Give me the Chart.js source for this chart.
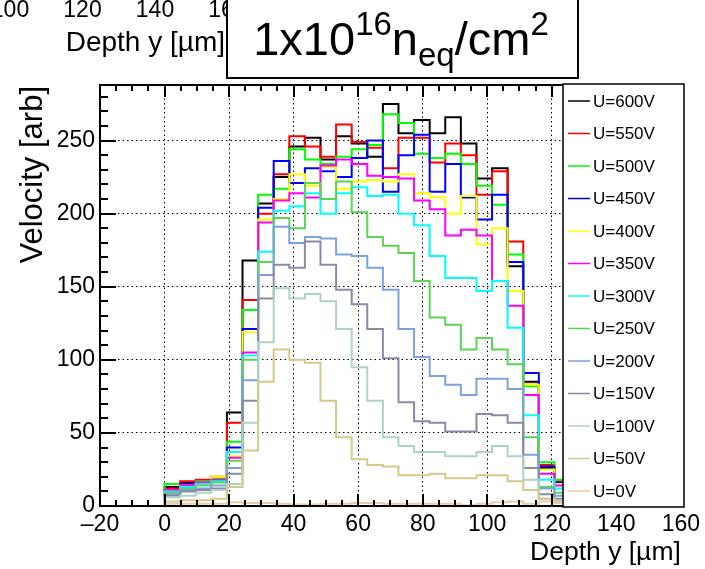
<!DOCTYPE html>
<html>
<head>
<meta charset="utf-8">
<script src="https://cdn.jsdelivr.net/npm/chart.js@4.4.0/dist/chart.umd.min.js"></script>
<style>
  html, body { margin: 0; padding: 0; background: #fff; }
  #wrap { width: 705px; height: 569px; position: relative; }
</style>
</head>
<body>
<div id="wrap"><canvas id="c" width="705" height="569"></canvas></div>
<script>
// bin edges of the depth histogram [um]
var binEdges = [0, 4.83, 9.67, 14.5, 19.33, 24.17, 29, 33.83, 38.67, 43.5, 48.33, 53.17, 58,
  62.83, 67.67, 72.5, 77.33, 82.17, 87, 91.83, 96.67, 101.5, 106.33, 111.17, 116, 120.83, 125.67];

var labels = ['U=600V', 'U=550V', 'U=500V', 'U=450V', 'U=400V', 'U=350V', 'U=300V',
  'U=250V', 'U=200V', 'U=150V', 'U=100V', 'U=50V', 'U=0V'];
var colors = ['#000000', '#ff0000', '#00ff00', '#0000ff', '#ffff00', '#ff00ff', '#00ffff',
  '#59d454', '#7ea1dc', '#8a8aa6', '#b0d2c6', '#d2c98a', '#e9cba5'];

var u600 = [13, 16, 17, 19, 64, 168, 207, 225, 246, 252, 237, 253, 248, 239, 275, 255, 264, 255, 266, 248, 224, 231, 164, 85, 26, 16];
var u550 = [12, 17, 18, 20, 57, 141, 200, 227, 253, 246, 239, 261, 249, 245, 231, 252, 252, 235, 248, 240, 213, 229, 181, 83, 28, 17];
var u500 = [15, 15, 17, 19, 44, 134, 213, 217, 244, 237, 234, 239, 244, 247, 268, 262, 241, 238, 241, 234, 219, 206, 172, 82, 30, 18];
var u450 = [10, 15, 16, 17, 40, 121, 204, 236, 221, 231, 229, 225, 238, 250, 215, 240, 254, 215, 234, 211, 196, 213, 167, 91, 27, 16];
var u400 = [11, 14, 16, 20, 34, 119, 196, 210, 227, 219, 232, 217, 222, 223, 222, 227, 214, 211, 200, 212, 179, 190, 147, 83, 25, 15];
var u350 = [11, 14, 16, 18, 33, 105, 194, 209, 214, 211, 233, 237, 234, 226, 225, 224, 209, 203, 185, 189, 185, 154, 137, 76, 22, 14];
var u300 = [10, 13, 15, 17, 37, 103, 174, 202, 205, 214, 200, 214, 218, 212, 213, 200, 192, 171, 156, 156, 147, 154, 122, 62, 18, 12];
var u250 = [9, 12, 14, 16, 31, 100, 167, 197, 190, 221, 210, 222, 201, 184, 178, 173, 154, 129, 124, 107, 115, 107, 97, 47, 13, 9];
var u200 = [8, 11, 12, 14, 26, 86, 158, 191, 180, 184, 183, 172, 171, 163, 148, 121, 102, 89, 83, 76, 87, 87, 80, 35, 12, 7];
var u150 = [7, 10, 11, 12, 22, 72, 142, 165, 163, 181, 165, 148, 138, 121, 101, 71, 58, 57, 51, 51, 63, 62, 57, 26, 8, 5];
var u100 = [6, 7, 9, 11, 15, 57, 112, 149, 142, 145, 140, 121, 95, 72, 47, 41, 37, 37, 34, 34, 37, 41, 34, 18, 5, 4];
var u50 = [3, 4, 4, 5, 13, 38, 85, 107, 100, 98, 72, 47, 32, 28, 27, 21, 21, 22, 19, 19, 21, 21, 17, 11, 5, 3];
var u0 = [1.5, 1.5, 1.5, 1.5, 2.5, 2, 2, 1.5, 1, 1, 1.5, 1.5, 2, 2, 1.5, 1.5, 1.5, 1.5, 1.5, 0.5, 1.5, 2.5, 3, 1.5, 3, 2];

var series = [u600, u550, u500, u450, u400, u350, u300, u250, u200, u150, u100, u50, u0];

var xTicks = [-20, 0, 20, 40, 60, 80, 100, 120, 140, 160];
var yTicks = [0, 50, 100, 150, 200, 250];

var FONT = '"Liberation Sans", Arial, Helvetica, sans-serif';

// histogram outline: start on the baseline, step through bins, back to baseline
function histPoints(vals) {
  var pts = [{ x: binEdges[0], y: 0 }];
  for (var i = 0; i < vals.length; i++) pts.push({ x: binEdges[i], y: vals[i] });
  var n = vals.length;
  pts.push({ x: binEdges[n], y: vals[n - 1] });
  pts.push({ x: binEdges[n], y: 0 });
  return pts;
}

var datasets = series.map(function (vals, i) {
  return {
    label: labels[i],
    data: histPoints(vals),
    borderColor: colors[i],
    borderWidth: 2,
    stepped: true,
    pointRadius: 0,
    fill: false,
    order: series.length - i
  };
});

var rootDecor = {
  id: 'rootDecor',
  afterDraw: function (chart) {
    var ctx = chart.ctx, a = chart.chartArea;
    var xs = chart.scales.x, ys = chart.scales.y;
    ctx.save();

    // tick marks pointing into the frame
    ctx.strokeStyle = '#000';
    ctx.lineWidth = 2;
    ctx.beginPath();
    for (var v = xs.min; v <= xs.max; v += 5) {
      var px = Math.round(xs.getPixelForValue(v));
      var len = (v % 20 === 0) ? 12 : 6;
      ctx.moveTo(px, a.bottom); ctx.lineTo(px, a.bottom - len);
      ctx.moveTo(px, a.top); ctx.lineTo(px, a.top + len);
    }
    for (var w = 0; w <= ys.max; w += 10) {
      var py = Math.round(ys.getPixelForValue(w));
      var l2 = (w % 50 === 0) ? 16 : 8;
      ctx.moveTo(a.left, py); ctx.lineTo(a.left + l2, py);
      ctx.moveTo(a.right, py); ctx.lineTo(a.right - l2, py);
    }
    ctx.stroke();
    ctx.strokeRect(a.left, a.top, a.right - a.left, a.bottom - a.top);

    // axis titles
    ctx.fillStyle = '#000';
    ctx.font = '26.5px ' + FONT;
    ctx.textAlign = 'right';
    ctx.textBaseline = 'alphabetic';
    ctx.fillText('Depth y [\u00b5m]', a.right, 560);
    ctx.save();
    ctx.translate(42, a.top + 1);
    ctx.rotate(-Math.PI / 2);
    ctx.font = '31px ' + FONT;
    ctx.fillText('Velocity [arb]', 0, 0);
    ctx.restore();

    // legend box
    var lx = 563, ly = 84, lw = 121, lh = 423;
    ctx.fillStyle = '#fff';
    ctx.fillRect(lx, ly, lw, lh);
    ctx.lineWidth = 1.5;
    ctx.strokeStyle = '#000';
    ctx.strokeRect(lx, ly, lw, lh);
    ctx.font = '17px ' + FONT;
    ctx.textAlign = 'left';
    ctx.textBaseline = 'middle';
    chart.data.datasets.forEach(function (ds, i) {
      var yy = 101 + i * 32.5;
      ctx.strokeStyle = ds.borderColor;
      ctx.lineWidth = 1.5;
      ctx.beginPath();
      ctx.moveTo(568, yy); ctx.lineTo(590, yy);
      ctx.stroke();
      ctx.fillStyle = '#000';
      ctx.fillText(ds.label, 593, yy + 1);
    });

    // leftover axis of the pad above
    ctx.fillStyle = '#000';
    ctx.font = '23px ' + FONT;
    ctx.textAlign = 'center';
    ctx.textBaseline = 'alphabetic';
    ['100', '120', '140', '160'].forEach(function (t, i) {
      ctx.fillText(t, 10 + i * 72.5, 17);
    });
    ctx.font = '28px ' + FONT;
    ctx.textAlign = 'right';
    ctx.fillText('Depth y [\u00b5m]', 225, 51);

    // title box
    ctx.fillStyle = '#fff';
    ctx.fillRect(227, -2, 351, 80);
    ctx.lineWidth = 2;
    ctx.strokeStyle = '#000';
    ctx.strokeRect(227, -2, 351, 80);
    var parts = [
      { t: '1x10', s: 47, dy: 0 },
      { t: '16', s: 33, dy: -20 },
      { t: 'n', s: 47, dy: 0 },
      { t: 'eq', s: 33, dy: 11 },
      { t: '/cm', s: 47, dy: 0 },
      { t: '2', s: 33, dy: -20 }
    ];
    var total = 0;
    parts.forEach(function (p) { ctx.font = p.s + 'px ' + FONT; p.w = ctx.measureText(p.t).width; total += p.w; });
    var x0 = 401 - total / 2;
    ctx.fillStyle = '#000';
    ctx.textAlign = 'left';
    parts.forEach(function (p) {
      ctx.font = p.s + 'px ' + FONT;
      ctx.fillText(p.t, x0, 55 + p.dy);
      x0 += p.w;
    });
    ctx.restore();
  }
};

new Chart(document.getElementById('c'), {
  type: 'line',
  data: { datasets: datasets },
  options: {
    responsive: false,
    animation: false,
    devicePixelRatio: 1,
    layout: { padding: { top: 85, right: 22, left: 0, bottom: 0 } },
    plugins: { legend: { display: false }, tooltip: { enabled: false } },
    elements: { line: { tension: 0 } },
    scales: {
      x: {
        type: 'linear',
        min: -20,
        max: 160,
        afterFit: function (s) { s.height = 63; },
        afterBuildTicks: function (s) { s.ticks = xTicks.map(function (v) { return { value: v }; }); },
        ticks: {
          color: '#000',
          font: { family: FONT, size: 23 },
          padding: 5,
          maxRotation: 0,
          autoSkip: false,
          callback: function (v) { return v < 0 ? '\u2013' + Math.abs(v) : String(v); }
        },
        grid: { color: '#000', lineWidth: 1, drawTicks: false },
        border: { display: false, dash: [1.5, 3] }
      },
      y: {
        min: 0,
        max: 288,
        afterFit: function (s) { s.width = 100; },
        afterBuildTicks: function (s) { s.ticks = yTicks.map(function (v) { return { value: v }; }); },
        ticks: {
          color: '#000',
          font: { family: FONT, size: 23 },
          padding: 5
        },
        grid: { color: '#000', lineWidth: 1, drawTicks: false },
        border: { display: false, dash: [1.5, 3] }
      }
    }
  },
  plugins: [rootDecor]
});
</script>
</body>
</html>
